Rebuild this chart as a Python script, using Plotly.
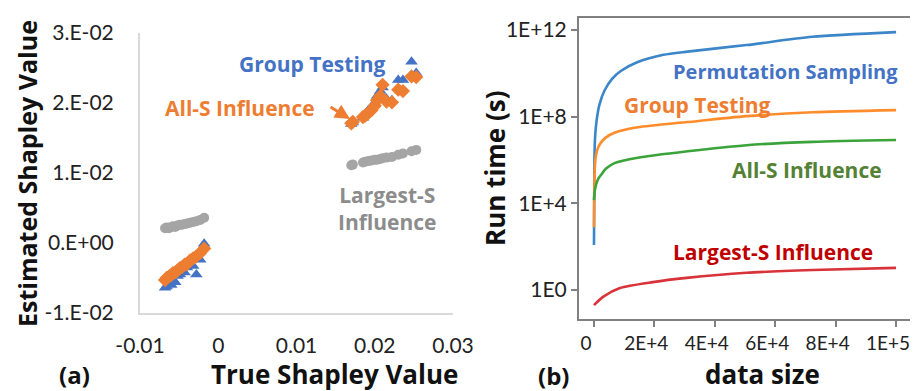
import plotly.graph_objects as go

# ---------------- data: panel (a) ----------------
true_shapley = [
    -0.0068, -0.0066, -0.0063, -0.0060, -0.0058, -0.0055, -0.0052, -0.0049,
    -0.0046, -0.0043, -0.0040, -0.0036, -0.0032, -0.0028, -0.0023, -0.0018,
    0.0170, 0.0172, 0.0185, 0.0188, 0.0192, 0.0196, 0.0200, 0.0203,
    0.0207, 0.0210, 0.0215, 0.0222, 0.0230, 0.0236, 0.0247, 0.0253,
]
group_testing_est = [
    -0.0064, -0.0062, -0.0058, -0.0060, -0.0052, -0.0056, -0.0047, -0.0045,
    -0.0040, -0.0042, -0.0035, -0.0030, -0.0033, -0.0045, -0.0024, -0.0001,
    0.0170, 0.0172, 0.0179, 0.0185, 0.0190, 0.0195, 0.0200, 0.0210,
    0.0217, 0.0222, 0.0206, 0.0204, 0.0233, 0.0233, 0.0259, 0.0243,
]
all_s_est = [
    -0.0053, -0.0050, -0.0048, -0.0046, -0.0043, -0.0042, -0.0039, -0.0036,
    -0.0034, -0.0031, -0.0030, -0.0025, -0.0022, -0.0019, -0.0014, -0.0008,
    0.0171, 0.0173, 0.0180, 0.0182, 0.0186, 0.0190, 0.0196, 0.0204,
    0.0210, 0.0226, 0.0202, 0.0201, 0.0219, 0.0217, 0.0238, 0.0237,
]
largest_s_est = [
    0.0021, 0.0022, 0.0021, 0.0023, 0.0024, 0.0023, 0.0025, 0.0026,
    0.0026, 0.0027, 0.0028, 0.0029, 0.0030, 0.0031, 0.0033, 0.0036,
    0.0111, 0.0112, 0.0115, 0.0116, 0.0117, 0.0118, 0.0119, 0.0119,
    0.0120, 0.0121, 0.0122, 0.0123, 0.0126, 0.0128, 0.0131, 0.0133,
]
a_xticks = [-0.01, 0, 0.01, 0.02, 0.03]
a_xticklabels = ["-0.01", "0", "0.01", "0.02", "0.03"]
a_yticks = [-0.01, 0, 0.01, 0.02, 0.03]
a_yticklabels = ["-1.E-02", "0.E+00", "1.E-02", "2.E-02", "3.E-02"]

# ---------------- data: panel (b) ----------------
perm_n = [10, 150, 400, 900, 1800, 3500, 6000, 9000, 14500, 23000, 31000, 50500, 72300, 100000]
perm_time = [1.2e2, 1.0e6, 1.3e7, 7.0e7, 3.5e8, 1.6e9, 5.5e9, 1.3e10, 3.3e10, 7.1e10, 1.0e11, 2.0e11, 4.8e11, 7.9e11]
group_n = [10, 250, 600, 1300, 2300, 4000, 6800, 14500, 31000, 50500, 72300, 100000]
group_time = [7.9e2, 3.5e5, 1.4e6, 3.5e6, 6.3e6, 1.1e7, 1.8e7, 3.2e7, 5.6e7, 1.05e8, 1.6e8, 2.0e8]
alls_n = [10, 300, 770, 1500, 2300, 4000, 6800, 14500, 31000, 50500, 72300, 100000]
alls_time = [1.4e4, 4.0e4, 7.9e4, 1.4e5, 2.0e5, 4.0e5, 7.1e5, 1.26e6, 2.5e6, 4.8e6, 6.8e6, 8.3e6]
largest_n = [10, 3000, 8600, 19500, 30700, 50500, 72300, 100000]
largest_time = [0.2, 0.48, 1.23, 2.3, 3.6, 6.2, 8.3, 10.5]
b_xticks = [0, 20000, 40000, 60000, 80000, 100000]
b_xticklabels = ["0", "2E+4", "4E+4", "6E+4", "8E+4", "1E+5"]
b_yticks = [1, 1e4, 1e8, 1e12]
b_yticklabels = ["1E0", "1E+4", "1E+8", "1E+12"]

# page body has an 8px margin: build the figure in screen coordinates minus that offset
OFF = 8
W, H = 918 - OFF, 391 - OFF
FONT = "Open Sans"
TFONT = "Lato"


def px(x):
    return (x - OFF) / W


def py(y):
    return 1 - (y - OFF) / H


fig = go.Figure()

fig.add_trace(go.Scatter(
    x=true_shapley, y=largest_s_est, mode="markers", xaxis="x", yaxis="y",
    marker=dict(symbol="circle", size=10, color="#a5a5a5"), showlegend=False))
fig.add_trace(go.Scatter(
    x=true_shapley, y=group_testing_est, mode="markers", xaxis="x", yaxis="y",
    marker=dict(symbol="triangle-up", size=11, color="#4472c4"), showlegend=False))
fig.add_trace(go.Scatter(
    x=true_shapley, y=all_s_est, mode="markers", xaxis="x", yaxis="y",
    marker=dict(symbol="diamond", size=11, color="#ed7d31"), showlegend=False))

line_w = 2.6
for xs, ys, col in [(perm_n, perm_time, "#3b86c8"), (group_n, group_time, "#ff8c2a"),
                    (alls_n, alls_time, "#3aa43a"), (largest_n, largest_time, "#d9333a")]:
    fig.add_trace(go.Scatter(x=xs, y=ys, mode="lines", xaxis="x2", yaxis="y2",
                             line=dict(color=col, width=line_w, shape="spline", smoothing=0.7),
                             showlegend=False))

tickfont = dict(family=TFONT, size=21, color="#222222")

annotations = []


def label(text, x, y, size, color, bold=True, angle=0):
    t = f"<b>{text}</b>" if bold else text
    annotations.append(dict(text=t, x=px(x), y=py(y), xref="paper", yref="paper",
                            xanchor="center", yanchor="middle", showarrow=False,
                            textangle=angle, font=dict(family=FONT, size=size, color=color)))


# panel (a) texts
label("Estimated Shapley Value", 27, 174, 25, "#111111", angle=-90)
label("True Shapley Value", 334, 374, 26, "#111111")
label("(a)", 74, 374, 24, "#111111")
label("Group Testing", 312, 64, 21, "#4472c4")
label("All-S Influence", 240, 108, 21, "#ed7d31")
label("Largest-S<br>Influence", 387, 208, 21, "#8c8c8c")
annotations.append(dict(text="", x=0.01684, y=0.01771, xref="x", yref="y",
                        ax=-21, ay=-13, showarrow=True, arrowhead=2, arrowsize=1,
                        arrowwidth=3, arrowcolor="#ed7d31"))

# panel (b) texts
label("Run time (s)", 495, 168, 26, "#111111", angle=-90)
label("data size", 762, 374, 26, "#111111")
label("(b)", 553, 375, 24, "#111111")
label("Permutation Sampling", 785, 72, 20, "#4472c4")
label("Group Testing", 697, 105, 21, "#ed7d31")
label("All-S Influence", 807, 170, 21, "#548235")
label("Largest-S Influence", 773, 252, 21, "#c00000")

common = dict(showgrid=False, zeroline=False, showline=True, automargin=False,
              ticklabeloverflow="allow")

fig.update_layout(
    width=W, height=H, margin=dict(l=0, r=0, t=0, b=0, autoexpand=False),
    paper_bgcolor="white", plot_bgcolor="white",
    annotations=annotations,
    xaxis=dict(domain=[px(140), px(453)], range=[-0.01, 0.03], tickvals=a_xticks,
               ticktext=a_xticklabels, linecolor="#d9d9d9", linewidth=2, ticks="",
               anchor="y", ticklabelstandoff=13, tickfont=tickfont, **common),
    yaxis=dict(domain=[py(313), py(33)], range=[-0.01, 0.03], tickvals=a_yticks,
               ticktext=a_yticklabels, linecolor="#d9d9d9", linewidth=2, ticks="",
               anchor="x", ticklabelstandoff=20, tickfont=tickfont, **common),
    xaxis2=dict(domain=[px(579), px(911)], range=[-4950, 104950], tickvals=b_xticks,
                ticktext=b_xticklabels, mirror=True, linecolor="#808080", linewidth=2,
                ticks="outside", ticklen=6, tickwidth=2, tickcolor="#808080",
                anchor="y2", tickfont=dict(family=TFONT, size=19, color="#222222"),
                ticklabelshift=-8, **common),
    yaxis2=dict(domain=[py(319), py(18)], type="log", range=[-1.34, 12.55],
                tickvals=b_yticks, ticktext=b_yticklabels, mirror=True,
                linecolor="#808080", linewidth=2, ticks="outside", ticklen=6,
                tickwidth=2, tickcolor="#808080", anchor="x2", tickfont=tickfont,
                **common),
)

fig.write_html("out.html")
